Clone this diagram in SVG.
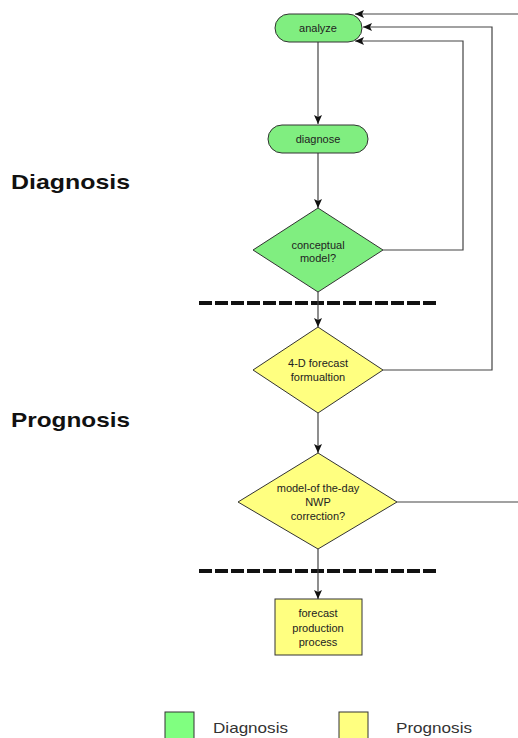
<svg xmlns="http://www.w3.org/2000/svg" width="518" height="738" viewBox="0 0 518 738">
<style>
.g{fill:#80EE80;stroke:#333;stroke-width:1}
.y{fill:#FFFF80;stroke:#333;stroke-width:1}
.t{font-family:"Liberation Sans",Arial,sans-serif;font-size:11px;fill:#222;text-anchor:middle}
.c{fill:none;stroke:#444;stroke-width:1.2}
.d{fill:none;stroke:#111;stroke-width:4;stroke-dasharray:13 3}
.h{font-family:"Liberation Sans",Arial,sans-serif;font-size:21px;font-weight:bold;fill:#111}
.l{font-family:"Liberation Sans",Arial,sans-serif;font-size:15px;fill:#333}
</style>
<defs>
<marker id="a" markerWidth="9" markerHeight="8" refX="9" refY="4" orient="auto" markerUnits="userSpaceOnUse">
<path d="M0,0 L9,4 L0,8 L2,4 z" fill="#111"/>
</marker>
</defs>
<rect width="518" height="738" fill="#fff"/>
<text class="h" x="11" y="189" textLength="119" lengthAdjust="spacingAndGlyphs">Diagnosis</text>
<text class="h" x="11" y="427" textLength="119" lengthAdjust="spacingAndGlyphs">Prognosis</text>
<g id="dividers">
<line class="d" x1="199" y1="303" x2="437" y2="303"/>
<line class="d" x1="199" y1="571" x2="437" y2="571"/>
</g>
<g id="connectors">
<line class="c" x1="318" y1="42" x2="318" y2="124" marker-end="url(#a)"/>
<line class="c" x1="318" y1="153" x2="318" y2="208" marker-end="url(#a)"/>
<line class="c" x1="318" y1="292" x2="318" y2="327" marker-end="url(#a)"/>
<line class="c" x1="318" y1="413" x2="318" y2="453" marker-end="url(#a)"/>
<line class="c" x1="318" y1="549" x2="318" y2="599" marker-end="url(#a)"/>
<polyline class="c" points="383,250 463,250 463,41 355,41" marker-end="url(#a)"/>
<polyline class="c" points="383,370 492,370 492,27 363,27" marker-end="url(#a)"/>
<polyline class="c" points="518,14 355,14" marker-end="url(#a)"/>
<line class="c" x1="397" y1="502" x2="518" y2="502"/>
</g>
<g id="analyze">
<rect class="g" x="275" y="14" width="87" height="28" rx="14"/>
<text class="t" x="318" y="32">analyze</text>
</g>
<g id="diagnose">
<rect class="g" x="268" y="125" width="100" height="28" rx="14"/>
<text class="t" x="318" y="143">diagnose</text>
</g>
<g id="conceptual">
<polygon class="g" points="318,208 383,250 318,292 253,250"/>
<text class="t" x="318" y="249">conceptual</text>
<text class="t" x="318" y="262">model?</text>
</g>
<g id="forecast4d">
<polygon class="y" points="318,327 383,370 318,413 253,370"/>
<text class="t" x="318" y="367">4-D forecast</text>
<text class="t" x="318" y="381">formualtion</text>
</g>
<g id="modeloftheday">
<polygon class="y" points="318,453 397,502 318,549 238,502"/>
<text class="t" x="318" y="492">model-of the-day</text>
<text class="t" x="318" y="506">NWP</text>
<text class="t" x="318" y="520">correction?</text>
</g>
<g id="production">
<rect class="y" x="275" y="599" width="87" height="56"/>
<text class="t" x="318" y="617">forecast</text>
<text class="t" x="318" y="632">production</text>
<text class="t" x="318" y="646">process</text>
</g>
<g id="legend-diagnosis">
<rect class="g" x="165" y="712" width="29" height="30" style="fill:#80FF80"/>
<text class="l" x="213" y="733" textLength="75" lengthAdjust="spacingAndGlyphs">Diagnosis</text>
</g>
<g id="legend-prognosis">
<rect class="y" x="339" y="712" width="29" height="30"/>
<text class="l" x="396" y="733" textLength="76" lengthAdjust="spacingAndGlyphs">Prognosis</text>
</g>
</svg>
